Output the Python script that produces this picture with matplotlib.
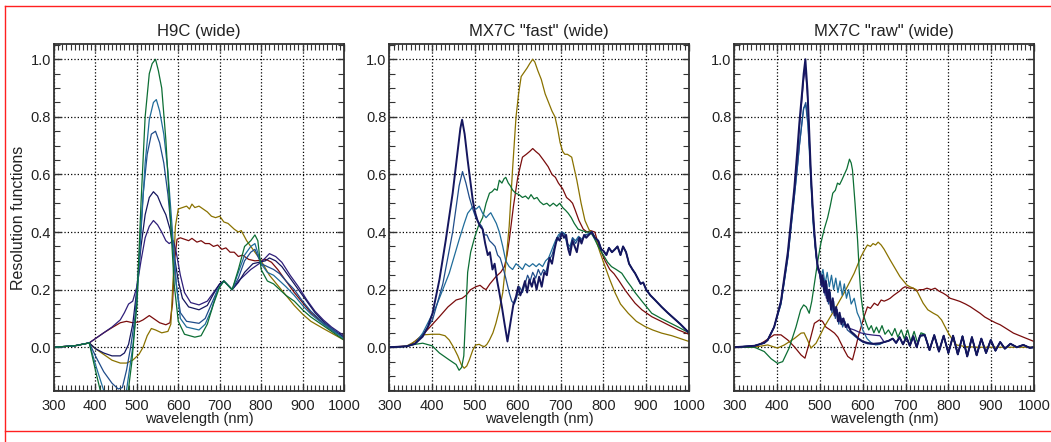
import numpy as np
import matplotlib.pyplot as plt
from matplotlib.lines import Line2D
from matplotlib.ticker import MultipleLocator

FONT = ['Liberation Sans', 'DejaVu Sans']

# colours of the seven resolution functions
C_PURPLE = '#2f1f7a'
C_NAVY = '#15165e'
C_BLUE = '#1f4c8a'
C_TEAL = '#1f6c9a'
C_GREEN = '#0c6e34'
C_OLIVE = '#8a7200'
C_RED = '#7a0c0c'

# ---- H9C (wide) ----
h9c_purple = [(300, 0), (350, 0.005), (385, 0.015), (400, 0.03), (420, 0.05), (440, 0.07), (460, 0.095),
              (470, 0.12), (480, 0.15), (490, 0.16), (500, 0.21), (510, 0.3), (520, 0.38), (530, 0.42),
              (540, 0.44), (550, 0.425), (560, 0.40), (570, 0.37), (578, 0.36), (588, 0.37), (595, 0.33),
              (605, 0.25), (615, 0.19), (630, 0.155), (650, 0.147), (670, 0.16), (685, 0.19), (700, 0.22),
              (710, 0.23), (720, 0.215), (730, 0.2), (745, 0.23), (760, 0.25), (775, 0.27), (795, 0.29),
              (810, 0.31), (820, 0.325), (835, 0.315), (850, 0.295), (870, 0.25), (890, 0.21), (910, 0.165),
              (930, 0.125), (950, 0.095), (970, 0.07), (1000, 0.04)]
h9c_navy = [(300, 0), (350, 0.005), (385, 0.015), (400, -0.005), (420, -0.02), (440, -0.03), (460, -0.03),
            (470, -0.02), (480, 0.01), (490, 0.08), (500, 0.2), (510, 0.35), (520, 0.46), (530, 0.52),
            (540, 0.54), (550, 0.525), (560, 0.49), (570, 0.46), (580, 0.41), (590, 0.32), (600, 0.23),
            (610, 0.17), (625, 0.14), (650, 0.13), (670, 0.145), (685, 0.185), (700, 0.22), (710, 0.23),
            (720, 0.215), (730, 0.2), (745, 0.225), (760, 0.26), (780, 0.29), (795, 0.295), (810, 0.30),
            (820, 0.31), (835, 0.30), (850, 0.28), (870, 0.24), (890, 0.2), (910, 0.16), (930, 0.12),
            (950, 0.09), (970, 0.065), (1000, 0.035)]
h9c_blue = [(300, 0), (350, 0.005), (385, 0.015), (400, -0.03), (420, -0.085), (440, -0.125), (455, -0.145),
            (465, -0.14), (475, -0.08), (485, 0.0), (495, 0.1), (505, 0.3), (515, 0.53), (525, 0.67),
            (535, 0.74), (545, 0.75), (555, 0.71), (565, 0.64), (575, 0.53), (585, 0.38), (595, 0.22),
            (605, 0.12), (620, 0.09), (650, 0.083), (665, 0.1), (680, 0.15), (695, 0.2), (710, 0.23),
            (720, 0.215), (730, 0.2), (745, 0.24), (760, 0.3), (775, 0.33), (785, 0.34), (800, 0.29),
            (815, 0.28), (830, 0.27), (845, 0.255), (860, 0.23), (880, 0.2), (900, 0.16), (920, 0.125),
            (950, 0.085), (975, 0.06), (1000, 0.03)]
h9c_teal = [(300, 0), (350, 0.005), (385, 0.015), (400, -0.06), (420, -0.15), (440, -0.22), (460, -0.24),
            (470, -0.2), (480, -0.1), (490, 0.0), (500, 0.15), (510, 0.4), (520, 0.64), (530, 0.79),
            (540, 0.85), (547, 0.86), (555, 0.82), (565, 0.74), (575, 0.61), (585, 0.42), (595, 0.22),
            (605, 0.1), (620, 0.07), (650, 0.06), (665, 0.08), (680, 0.13), (695, 0.2), (710, 0.23),
            (720, 0.215), (730, 0.2), (745, 0.26), (760, 0.32), (775, 0.35), (785, 0.36), (800, 0.29),
            (815, 0.26), (830, 0.25), (845, 0.23), (860, 0.21), (880, 0.18), (900, 0.145), (920, 0.115),
            (950, 0.08), (975, 0.055), (1000, 0.03)]
h9c_green = [(300, 0), (350, 0.005), (385, 0.015), (400, -0.08), (420, -0.2), (440, -0.3), (460, -0.32),
             (475, -0.2), (488, -0.05), (500, 0.15), (510, 0.5), (520, 0.8), (530, 0.95), (537, 0.985),
             (545, 1.0), (552, 0.96), (560, 0.9), (570, 0.72), (580, 0.47), (590, 0.22), (600, 0.09),
             (615, 0.045), (640, 0.035), (655, 0.04), (670, 0.08), (685, 0.15), (700, 0.21), (710, 0.23),
             (720, 0.215), (730, 0.2), (745, 0.27), (760, 0.35), (775, 0.37), (785, 0.39), (792, 0.37),
             (800, 0.27), (815, 0.23), (830, 0.22), (845, 0.2), (860, 0.18), (880, 0.16), (900, 0.13),
             (920, 0.105), (950, 0.075), (975, 0.05), (1000, 0.025)]
h9c_olive = [(300, 0), (350, 0.005), (385, 0.015), (400, -0.005), (420, -0.025), (440, -0.045), (460, -0.055),
             (475, -0.055), (490, -0.045), (505, -0.025), (515, 0.0), (525, 0.04), (535, 0.065), (545, 0.06),
             (560, 0.05), (575, 0.055), (582, 0.08), (588, 0.25), (593, 0.42), (600, 0.48), (610, 0.485),
             (620, 0.49), (627, 0.48), (633, 0.497), (640, 0.485), (650, 0.49), (660, 0.48), (670, 0.47),
             (680, 0.455), (690, 0.45), (700, 0.455), (710, 0.435), (720, 0.43), (735, 0.41), (745, 0.40),
             (752, 0.405), (765, 0.37), (780, 0.34), (800, 0.30), (820, 0.25), (840, 0.215), (860, 0.18),
             (880, 0.145), (900, 0.115), (920, 0.09), (950, 0.065), (975, 0.045), (1000, 0.025)]
h9c_red = [(300, 0), (350, 0.005), (385, 0.015), (400, 0.03), (420, 0.05), (440, 0.068), (460, 0.085),
           (475, 0.09), (490, 0.085), (505, 0.088), (515, 0.095), (530, 0.11), (540, 0.1), (555, 0.085),
           (570, 0.078), (580, 0.085), (586, 0.15), (591, 0.3), (597, 0.375), (605, 0.38), (615, 0.375),
           (625, 0.37), (633, 0.378), (645, 0.365), (655, 0.37), (665, 0.36), (675, 0.36), (685, 0.35),
           (695, 0.355), (705, 0.34), (715, 0.345), (725, 0.33), (735, 0.33), (745, 0.315), (755, 0.32),
           (770, 0.305), (785, 0.30), (800, 0.302), (812, 0.305), (825, 0.295), (840, 0.27), (860, 0.23),
           (880, 0.19), (900, 0.155), (920, 0.12), (940, 0.095), (960, 0.07), (980, 0.05), (1000, 0.035)]

# ---- MX7C "fast" (wide) ----
fast_tail = [(780, 0.38), (788, 0.37), (795, 0.34), (800, 0.335), (807, 0.32), (813, 0.345), (820, 0.33),
             (827, 0.34), (833, 0.35), (840, 0.32), (846, 0.35), (853, 0.33), (860, 0.29), (868, 0.27),
             (874, 0.257), (880, 0.24), (887, 0.22), (893, 0.225), (900, 0.2), (910, 0.18), (920, 0.165),
             (936, 0.14), (950, 0.12), (965, 0.1), (980, 0.08), (1000, 0.05)]
fast_navy = [(300, 0), (340, 0.003), (360, 0.012), (378, 0.037), (390, 0.07), (401, 0.118), (417, 0.234),
             (432, 0.373), (448, 0.535), (460, 0.685), (466, 0.76), (470, 0.79), (476, 0.74), (483, 0.65),
             (495, 0.51), (500, 0.47), (506, 0.44), (512, 0.42), (518, 0.41), (524, 0.36), (530, 0.32),
             (535, 0.33), (541, 0.27), (546, 0.29), (552, 0.23), (557, 0.19), (563, 0.14), (569, 0.083),
             (576, 0.02), (584, 0.095), (590, 0.15), (596, 0.176), (601, 0.21), (606, 0.18), (611, 0.2),
             (617, 0.23), (622, 0.19), (627, 0.234), (633, 0.21), (638, 0.24), (644, 0.2), (650, 0.245),
             (656, 0.21), (662, 0.26), (668, 0.25), (674, 0.31), (680, 0.29), (686, 0.34), (692, 0.38),
             (698, 0.37), (703, 0.396), (708, 0.38), (713, 0.39), (718, 0.34), (722, 0.32), (728, 0.37),
             (733, 0.35), (738, 0.33), (744, 0.38), (749, 0.36), (755, 0.39), (760, 0.38), (766, 0.39),
             (773, 0.40)]
fast_blue = [(300, 0), (340, 0.003), (360, 0.012), (378, 0.043), (401, 0.095), (425, 0.22), (448, 0.40),
             (463, 0.56), (471, 0.61), (479, 0.57), (487, 0.52), (495, 0.48), (502, 0.45), (510, 0.43),
             (516, 0.42), (522, 0.39), (528, 0.39), (534, 0.37), (541, 0.36), (547, 0.35), (553, 0.32),
             (559, 0.31), (565, 0.28), (572, 0.24), (580, 0.19), (586, 0.16), (592, 0.15), (597, 0.17),
             (604, 0.21), (611, 0.19), (617, 0.22), (623, 0.25), (629, 0.23), (635, 0.26), (642, 0.24),
             (648, 0.27), (654, 0.25), (660, 0.27), (666, 0.26), (672, 0.30), (680, 0.32), (688, 0.36),
             (695, 0.38), (703, 0.40), (710, 0.39), (716, 0.35), (722, 0.34), (728, 0.38), (735, 0.36),
             (742, 0.38), (750, 0.37), (758, 0.39), (766, 0.39), (773, 0.40)]
fast_teal = [(300, 0), (340, 0.003), (360, 0.012), (378, 0.049), (409, 0.14), (440, 0.257), (463, 0.373),
             (475, 0.43), (483, 0.465), (495, 0.488), (503, 0.48), (510, 0.49), (518, 0.465), (526, 0.45),
             (532, 0.46), (537, 0.467), (543, 0.45), (550, 0.43), (557, 0.40), (565, 0.35), (572, 0.30),
             (580, 0.28), (588, 0.27), (596, 0.29), (604, 0.28), (611, 0.27), (618, 0.29), (627, 0.28),
             (635, 0.29), (643, 0.28), (650, 0.29), (658, 0.28), (665, 0.30), (672, 0.31), (680, 0.34),
             (688, 0.37), (695, 0.39), (703, 0.40), (710, 0.395), (716, 0.36), (722, 0.35), (728, 0.38),
             (735, 0.37), (742, 0.385), (750, 0.375), (758, 0.39), (766, 0.395), (773, 0.40)]
fast_green = [(300, 0), (340, 0.003), (360, 0.01), (378, 0.014), (400, 0.005), (417, -0.02), (440, -0.044),
              (456, -0.06), (463, -0.08), (469, -0.07), (474, -0.03), (478, 0.1), (483, 0.26), (490, 0.33),
              (499, 0.38), (508, 0.42), (518, 0.45), (526, 0.50), (534, 0.535), (540, 0.54), (546, 0.55),
              (552, 0.545), (557, 0.58), (563, 0.57), (568, 0.585), (572, 0.59), (578, 0.57), (583, 0.56),
              (588, 0.546), (595, 0.535), (603, 0.53), (611, 0.52), (618, 0.525), (625, 0.515), (631, 0.53),
              (638, 0.515), (645, 0.52), (652, 0.505), (660, 0.495), (668, 0.50), (675, 0.49), (683, 0.50),
              (691, 0.49), (698, 0.50), (705, 0.485), (712, 0.475), (718, 0.465), (725, 0.45), (732, 0.43),
              (741, 0.41), (750, 0.405), (760, 0.40), (770, 0.40), (778, 0.38), (788, 0.35), (800, 0.32),
              (810, 0.295), (819, 0.28), (830, 0.27), (843, 0.257), (855, 0.23), (865, 0.21), (874, 0.19),
              (890, 0.16), (913, 0.118), (935, 0.1), (955, 0.085), (975, 0.07), (1000, 0.05)]
fast_olive = [(300, 0), (339, 0.003), (360, 0.02), (378, 0.043), (400, 0.045), (417, 0.045), (430, 0.04),
              (440, 0.025), (450, 0.0), (460, -0.03), (468, -0.06), (475, -0.073), (481, -0.065), (487, -0.044),
              (495, -0.01), (502, 0.008), (510, 0.01), (516, 0.005), (522, 0.002), (528, 0.01), (534, 0.025),
              (542, 0.05), (549, 0.083), (557, 0.13), (565, 0.19), (572, 0.29), (580, 0.42), (588, 0.62),
              (596, 0.80), (602, 0.88), (608, 0.94), (615, 0.955), (622, 0.97), (628, 0.985), (635, 1.0),
              (640, 0.99), (647, 0.96), (655, 0.93), (664, 0.88), (672, 0.85), (680, 0.82), (687, 0.80),
              (693, 0.76), (699, 0.71), (705, 0.68), (710, 0.67), (716, 0.67), (721, 0.665), (726, 0.66),
              (732, 0.62), (738, 0.58), (748, 0.50), (757, 0.44), (766, 0.41), (775, 0.39), (780, 0.385),
              (792, 0.33), (804, 0.28), (815, 0.235), (827, 0.19), (840, 0.15), (858, 0.118), (877, 0.09),
              (897, 0.072), (915, 0.06), (936, 0.049), (960, 0.04), (980, 0.03), (1000, 0.02)]
fast_red = [(300, 0), (347, 0.005), (378, 0.043), (398, 0.075), (417, 0.106), (437, 0.14), (456, 0.164),
            (470, 0.17), (479, 0.18), (490, 0.2), (502, 0.21), (512, 0.215), (520, 0.205), (526, 0.20),
            (535, 0.22), (549, 0.245), (560, 0.26), (569, 0.28), (575, 0.32), (580, 0.37), (590, 0.49),
            (600, 0.59), (611, 0.66), (620, 0.67), (628, 0.68), (635, 0.69), (642, 0.68), (650, 0.67),
            (660, 0.65), (671, 0.627), (680, 0.60), (688, 0.59), (695, 0.57), (705, 0.55), (714, 0.52),
            (722, 0.51), (728, 0.50), (734, 0.477), (743, 0.44), (753, 0.41), (762, 0.40), (770, 0.405),
            (780, 0.40), (790, 0.35), (804, 0.30), (815, 0.27), (825, 0.255), (835, 0.234), (850, 0.20),
            (860, 0.18), (874, 0.153), (890, 0.13), (913, 0.106), (935, 0.09), (955, 0.075), (975, 0.06),
            (1000, 0.045)]

# ---- MX7C "raw" (wide) ----
raw_tail = [(650, 0.018), (660, 0.022), (670, 0.03), (678, 0.015), (686, 0.035), (694, 0.01), (702, 0.035),
            (710, 0.005), (718, 0.038), (726, 0.0), (734, 0.04), (745, 0.042), (756, -0.01), (767, 0.042),
            (778, -0.015), (789, 0.04), (800, -0.02), (811, 0.04), (822, -0.025), (833, 0.038), (844, -0.032),
            (855, 0.035), (866, -0.028), (877, 0.03), (888, -0.02), (899, 0.025), (910, -0.012), (921, 0.018),
            (932, -0.005), (945, 0.012), (960, 0.0), (975, 0.008), (990, -0.002), (1000, 0.0)]
raw_navy = [(300, 0), (347, 0.005), (370, 0.015), (378, 0.025), (393, 0.07), (409, 0.16), (425, 0.33),
            (440, 0.55), (447, 0.68), (452, 0.78), (458, 0.88), (462, 0.95), (466, 1.0), (471, 0.89),
            (475, 0.75), (479, 0.60), (483, 0.49), (487, 0.40), (491, 0.33), (495, 0.28), (500, 0.26),
            (503, 0.22), (506, 0.25), (510, 0.19), (514, 0.23), (518, 0.16), (522, 0.2), (526, 0.13),
            (530, 0.17), (534, 0.11), (538, 0.14), (542, 0.09), (546, 0.12), (550, 0.08), (555, 0.1),
            (560, 0.07), (565, 0.08), (572, 0.055), (580, 0.045), (590, 0.03), (600, 0.02), (611, 0.015),
            (625, 0.012), (640, 0.014)]
raw_blue = [(300, 0), (347, 0.005), (370, 0.015), (378, 0.025), (393, 0.07), (409, 0.15), (425, 0.31),
            (440, 0.52), (447, 0.62), (452, 0.70), (458, 0.78), (462, 0.83), (467, 0.85), (472, 0.78),
            (476, 0.68), (480, 0.56), (484, 0.45), (488, 0.37), (492, 0.31), (496, 0.27), (500, 0.25),
            (504, 0.21), (508, 0.24), (512, 0.18), (516, 0.22), (520, 0.15), (524, 0.19), (528, 0.12),
            (532, 0.16), (536, 0.1), (540, 0.13), (544, 0.08), (548, 0.11), (553, 0.07), (558, 0.09),
            (564, 0.06), (572, 0.05), (580, 0.04), (590, 0.028), (600, 0.018), (611, 0.012), (625, 0.01),
            (640, 0.012)]
raw_teal = [(300, 0), (347, 0.005), (370, 0.015), (378, 0.025), (393, 0.07), (409, 0.15), (425, 0.31),
            (440, 0.52), (447, 0.62), (452, 0.70), (458, 0.78), (462, 0.83), (467, 0.84), (472, 0.77),
            (476, 0.66), (480, 0.54), (484, 0.43), (488, 0.36), (492, 0.30), (497, 0.27), (502, 0.24),
            (507, 0.27), (512, 0.22), (517, 0.26), (522, 0.21), (527, 0.25), (532, 0.2), (537, 0.24),
            (542, 0.19), (547, 0.23), (552, 0.18), (557, 0.22), (562, 0.17), (567, 0.2), (573, 0.15),
            (580, 0.17), (587, 0.12), (593, 0.1), (600, 0.06), (610, 0.03), (620, 0.015), (630, 0.008),
            (640, 0.01)]
raw_purple = [(300, 0), (347, 0.005), (370, 0.015), (378, 0.025), (393, 0.07), (409, 0.16), (425, 0.32),
              (440, 0.54), (447, 0.66), (452, 0.76), (458, 0.86), (462, 0.93), (466, 0.97), (471, 0.87),
              (475, 0.73), (479, 0.59), (483, 0.48), (487, 0.39), (491, 0.32), (495, 0.27), (500, 0.25),
              (505, 0.21), (510, 0.23), (515, 0.17), (520, 0.2), (525, 0.14), (530, 0.16), (535, 0.11),
              (540, 0.13), (546, 0.09), (552, 0.1), (560, 0.075), (570, 0.065), (580, 0.06), (595, 0.05),
              (610, 0.045), (625, 0.042), (640, 0.04)]
raw_green = [(300, 0), (347, 0.0), (370, -0.015), (386, -0.04), (401, -0.056), (413, -0.05), (428, -0.003),
             (444, 0.07), (455, 0.13), (462, 0.147), (468, 0.14), (475, 0.118), (481, 0.16), (487, 0.22),
             (495, 0.3), (502, 0.36), (510, 0.41), (518, 0.45), (524, 0.49), (530, 0.535), (536, 0.545),
             (541, 0.57), (546, 0.565), (551, 0.58), (557, 0.60), (563, 0.62), (569, 0.653), (573, 0.64),
             (576, 0.616), (582, 0.5), (588, 0.37), (592, 0.26), (596, 0.176), (602, 0.11), (608, 0.083),
             (614, 0.06), (620, 0.075), (626, 0.05), (632, 0.07), (638, 0.05), (645, 0.075), (652, 0.045),
             (660, 0.06), (668, 0.04), (675, 0.065), (682, 0.035), (690, 0.06), (697, 0.03), (705, 0.06),
             (712, 0.02), (720, 0.055), (728, 0.015), (736, 0.05), (745, 0.045)]
raw_olive = [(300, 0), (347, 0.0), (378, 0.008), (401, -0.003), (417, 0.008), (440, 0.03), (456, 0.049),
             (463, 0.05), (471, 0.025), (479, -0.003), (491, 0.014), (510, 0.07), (534, 0.13), (557, 0.19),
             (580, 0.257), (596, 0.315), (605, 0.34), (611, 0.355), (618, 0.35), (624, 0.36), (630, 0.355),
             (636, 0.365), (643, 0.355), (650, 0.34), (664, 0.303), (687, 0.245), (703, 0.216), (710, 0.21),
             (718, 0.205), (725, 0.2), (741, 0.153), (752, 0.13), (765, 0.118), (775, 0.11), (784, 0.095),
             (800, 0.049), (810, 0.025), (819, 0.008), (840, 0.002), (870, 0.0), (900, 0.0), (950, 0.0),
             (1000, 0.0)]
raw_red = [(300, 0), (347, 0.0), (370, 0.02), (393, 0.043), (409, 0.043), (425, 0.025), (440, 0.002),
           (456, -0.027), (465, -0.038), (475, 0.014), (487, 0.083), (499, 0.095), (506, 0.09), (514, 0.07),
           (524, 0.06), (534, 0.049), (542, 0.035), (549, 0.014), (557, -0.01), (565, -0.032), (576, -0.044),
           (584, 0.002), (590, 0.04), (596, 0.07), (604, 0.11), (611, 0.14), (618, 0.135), (627, 0.153),
           (635, 0.145), (643, 0.164), (650, 0.16), (658, 0.165), (664, 0.17), (672, 0.18), (679, 0.1875),
           (686, 0.195), (693, 0.205), (699, 0.21), (709, 0.205), (718, 0.205), (726, 0.195), (733, 0.2),
           (741, 0.2), (750, 0.205), (760, 0.2), (769, 0.205), (778, 0.195), (788, 0.1875), (796, 0.18),
           (804, 0.17), (815, 0.165), (827, 0.159), (840, 0.15), (851, 0.141), (862, 0.13), (874, 0.118),
           (885, 0.105), (897, 0.095), (910, 0.085), (921, 0.078), (935, 0.065), (952, 0.049), (975, 0.035),
           (1000, 0.02)]

panels = [
    ('H9C (wide)', [(h9c_red, C_RED), (h9c_olive, C_OLIVE), (h9c_purple, C_PURPLE), (h9c_navy, C_NAVY),
                    (h9c_blue, C_BLUE), (h9c_teal, C_TEAL), (h9c_green, C_GREEN)]),
    ('MX7C "fast" (wide)', [(fast_red, C_RED), (fast_olive, C_OLIVE), (fast_green, C_GREEN),
                            (fast_teal + fast_tail, C_TEAL), (fast_blue + fast_tail, C_BLUE),
                            (fast_navy + fast_tail, C_NAVY)]),
    ('MX7C "raw" (wide)', [(raw_red, C_RED), (raw_olive, C_OLIVE), (raw_green + raw_tail[10:], C_GREEN),
                           (raw_teal + raw_tail, C_TEAL), (raw_blue + raw_tail, C_BLUE),
                           (raw_purple + raw_tail, C_PURPLE), (raw_navy + raw_tail, C_NAVY)]),
]

fig = plt.figure(figsize=(10.51, 4.42), dpi=100)
boxes = [(54, 290), (389.3, 299.7), (734.3, 299.7)]
W, H = 1051, 442

for i, ((title, curves), (x0, w)) in enumerate(zip(panels, boxes)):
    ax = fig.add_axes([x0 / W, 1 - 391 / H, w / W, 347 / H])
    for pts, col in curves:
        x, y = zip(*pts)
        lw = 1.4 if col == C_NAVY and i > 0 else 0.9
        ax.plot(x, y, color=col, lw=lw)
    ax.set_xlim(300, 1000)
    ax.set_ylim(-0.152, 1.053)
    ax.xaxis.set_major_locator(MultipleLocator(100))
    ax.xaxis.set_minor_locator(MultipleLocator(10))
    ax.yaxis.set_major_locator(MultipleLocator(0.2))
    ax.yaxis.set_minor_locator(MultipleLocator(0.05))
    ax.tick_params(which='both', direction='in', top=True, right=True, color='#333333',
                   labelcolor='#222222')
    ax.tick_params(which='major', length=5, width=1)
    ax.tick_params(which='minor', length=4, width=0.8)
    ax.tick_params(axis='x', pad=6)
    ax.tick_params(axis='y', pad=2)
    ax.set_yticks([0.0, 0.2, 0.4, 0.6, 0.8, 1.0])
    ax.set_yticklabels(['0.0', '0.2', '0.4', '0.6', '0.8', '1.0'])
    for lab in ax.get_xticklabels() + ax.get_yticklabels():
        lab.set_fontfamily(FONT)
        lab.set_fontsize(10.5)
    ax.grid(True, which='major', color='black', linestyle=':', linewidth=0.9)
    for sp in ax.spines.values():
        sp.set_color('#333333')
        sp.set_linewidth(1.3)
    ax.set_title(title, fontfamily=FONT, fontsize=12, color='#222222', pad=6)
    ax.set_xlabel('wavelength (nm)', fontfamily=FONT, fontsize=10.5, color='#222222', labelpad=-1)
    if i == 0:
        ax.set_ylabel('Resolution functions', fontfamily=FONT, fontsize=11.5, color='#222222')
        ax.yaxis.set_label_coords(-0.095, 0.5)

# red frame lines
red = '#ff2020'
fig.add_artist(Line2D([5 / W, 1], [1 - 6 / H, 1 - 6 / H], color=red, lw=1.0))
fig.add_artist(Line2D([5 / W, 1], [1 - 431 / H, 1 - 431 / H], color=red, lw=1.0))
fig.add_artist(Line2D([5 / W, 5 / W], [0, 1 - 6 / H], color=red, lw=1.0))

fig.savefig('out.png', dpi=100)
